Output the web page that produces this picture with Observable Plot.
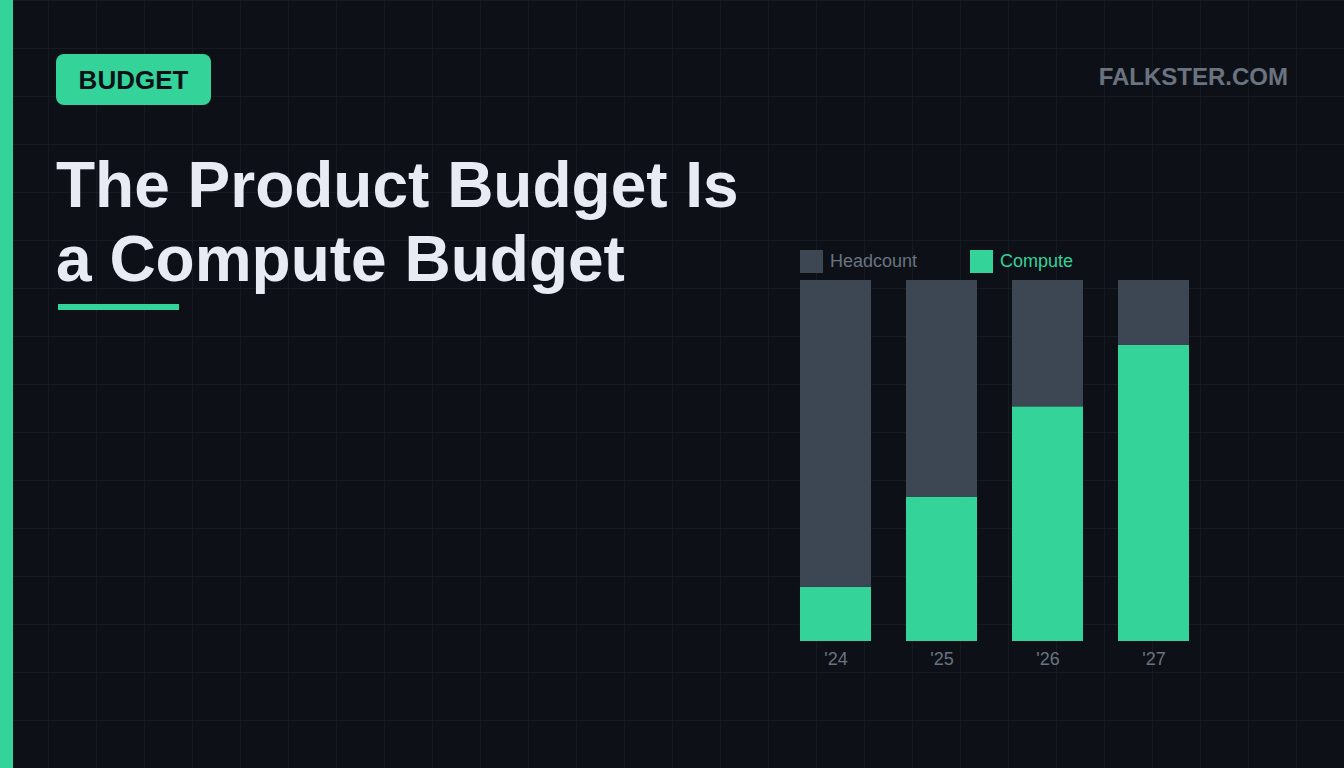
<!DOCTYPE html>
<html><head><meta charset="utf-8">
<script src="https://cdn.jsdelivr.net/npm/d3@7"></script>
<script src="https://cdn.jsdelivr.net/npm/@observablehq/plot@0.6"></script>
<style>
html,body{margin:0;padding:0;width:1344px;height:768px;overflow:hidden;background:#0d1117;font-family:"Liberation Sans",Arial,sans-serif;}
#bg{position:absolute;left:0;top:0;width:1344px;height:768px;
background-image:linear-gradient(to right,#161b22 1px,transparent 1px),linear-gradient(to bottom,#161b22 1px,transparent 1px);
background-size:48px 48px;background-position:0 0;}
#accent{position:absolute;left:0;top:0;width:13px;height:768px;background:#34d399;}
#badge{position:absolute;left:56px;top:54px;width:155px;height:51px;border-radius:8px;background:#34d399;color:#0d1117;font-weight:700;font-size:26px;line-height:52px;text-align:center;}
#brand{position:absolute;right:56px;top:63px;color:#6b7380;font-weight:700;font-size:24px;}
#title{position:absolute;left:56px;top:148px;color:#e8ebf4;font-weight:700;font-size:64px;line-height:74px;letter-spacing:0px;}
#rule{position:absolute;left:58px;top:304px;width:121px;height:6px;background:#34d399;}
#chart{position:absolute;left:0;top:0;}
.leg{position:absolute;top:250px;font-size:18px;line-height:23px;}
.sw{position:absolute;top:250px;width:23px;height:23px;}
</style></head>
<body>
<div id="bg"></div>
<div id="accent"></div>
<div id="badge">BUDGET</div>
<div id="brand">FALKSTER.COM</div>
<div id="title">The Product Budget Is<br>a Compute Budget</div>
<div id="rule"></div>
<div id="chart"></div>
<div class="sw" style="left:800px;background:#3d4753"></div>
<div class="leg" style="left:830px;color:#6b7380">Headcount</div>
<div class="sw" style="left:970px;background:#34d399"></div>
<div class="leg" style="left:1000px;color:#34d399">Compute</div>
<script>
const years = ["'24", "'25", "'26", "'27"];
const computeShare = [15, 40, 65, 82];
const headcountShare = computeShare.map(v => 100 - v);
const seriesNames = ["Compute", "Headcount"];
const seriesColors = ["#34d399", "#3d4753"];

const rows = [];
years.forEach((y, i) => {
  rows.push({year: y, series: "Compute", value: computeShare[i]});
  rows.push({year: y, series: "Headcount", value: headcountShare[i]});
});

const chart = Plot.plot({
  width: 1344,
  height: 768,
  style: {background: "transparent", overflow: "visible"},
  x: {domain: years, range: [800, 1189], paddingInner: 0.33, paddingOuter: 0, round: false, axis: null},
  y: {domain: [0, 100], range: [641, 280], axis: null},
  color: {domain: seriesNames, range: seriesColors},
  marks: [
    Plot.barY(rows, {x: "year", y: "value", fill: "series", order: seriesNames, inset: 0}),
    Plot.text(years, {x: d => d, y: 0, dy: 18, text: d => d, fontSize: 18, fill: "#6b7380", fontFamily: "Liberation Sans, Arial, sans-serif"})
  ]
});
document.getElementById("chart").appendChild(chart);
</script>
</body></html>
